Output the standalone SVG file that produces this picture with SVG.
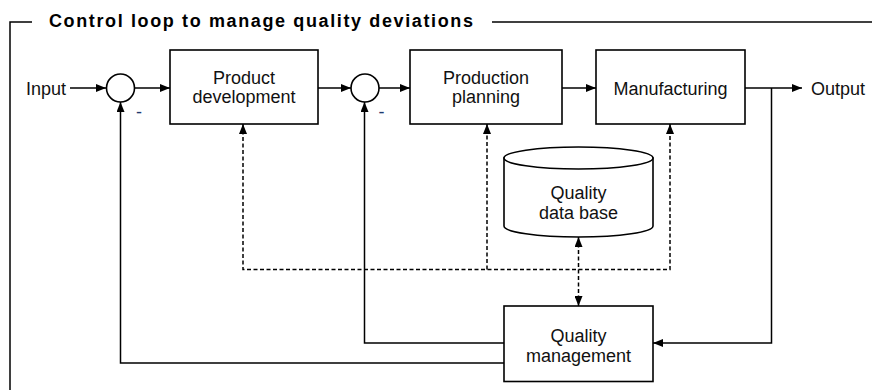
<svg xmlns="http://www.w3.org/2000/svg" width="872" height="390" viewBox="0 0 872 390">
<style>
.box{fill:#fff;stroke:#000;stroke-width:1.6}
.ln{fill:none;stroke:#000;stroke-width:1.5}
.ds{fill:none;stroke:#000;stroke-width:1.5;stroke-dasharray:4,2.5}
.t{font-family:"Liberation Sans",Arial,sans-serif;font-size:18px;fill:#111;text-anchor:middle}
.tl{font-family:"Liberation Sans",Arial,sans-serif;font-size:18px;fill:#111}
.ttl{font-family:"Liberation Sans",Arial,sans-serif;font-size:18px;font-weight:bold;fill:#000}
.neg{font-family:"Liberation Sans",Arial,sans-serif;font-size:18px;fill:#1f3a6e}
</style>
<defs>
<marker id="ah" markerUnits="userSpaceOnUse" markerWidth="11" markerHeight="8" refX="10" refY="4" orient="auto-start-reverse">
<path d="M0,0 L10,4 L0,8 z" fill="#000"/>
</marker>
</defs>
<g id="frame">
<path class="ln" d="M32,22 H10 V390"/>
<path class="ln" d="M492,22 H872"/>
<text class="ttl" x="49" y="26.5" textLength="424" lengthAdjust="spacing">Control loop to manage quality deviations</text>
</g>
<g id="connectors">
<path class="ln" d="M70,88 H106" marker-end="url(#ah)"/>
<path class="ln" d="M135,88 H170" marker-end="url(#ah)"/>
<path class="ln" d="M318,88 H351" marker-end="url(#ah)"/>
<path class="ln" d="M379,88 H410" marker-end="url(#ah)"/>
<path class="ln" d="M562,88 H596" marker-end="url(#ah)"/>
<path class="ln" d="M745,88 H802" marker-end="url(#ah)"/>
<path class="ln" d="M771.5,88 V343 H653" marker-end="url(#ah)"/>
<path class="ln" d="M504,343 H364.5 V102" marker-end="url(#ah)"/>
<path class="ln" d="M504,363 H120.5 V102" marker-end="url(#ah)"/>
<path class="ds" d="M243,124 V269.5 H670 V124" marker-start="url(#ah)" marker-end="url(#ah)"/>
<path class="ds" d="M487,269.5 V124" marker-end="url(#ah)"/>
<path class="ds" d="M578.5,237 V306" marker-start="url(#ah)" marker-end="url(#ah)"/>
</g>
<g id="input"><text class="tl" x="26" y="94.5">Input</text></g>
<g id="output"><text class="tl" x="811" y="94.5">Output</text></g>
<g id="sum1">
<circle class="box" cx="120.5" cy="88" r="14"/>
<text class="neg" x="136" y="117.5">-</text>
</g>
<g id="sum2">
<circle class="box" cx="365" cy="88" r="14"/>
<text class="neg" x="378.5" y="117.5">-</text>
</g>
<g id="product-development">
<rect class="box" x="170" y="50" width="148" height="74"/>
<text class="t" x="244" y="83.5">Product</text>
<text class="t" x="244" y="102.5">development</text>
</g>
<g id="production-planning">
<rect class="box" x="410" y="50" width="152" height="74"/>
<text class="t" x="486" y="83.5">Production</text>
<text class="t" x="486" y="102.5">planning</text>
</g>
<g id="manufacturing">
<rect class="box" x="596" y="50" width="149" height="74"/>
<text class="t" x="670.5" y="95">Manufacturing</text>
</g>
<g id="quality-database">
<path class="box" d="M504,158 V226 A74.5,11 0 0 0 653,226 V158 Z"/>
<ellipse class="box" cx="578.5" cy="158" rx="74.5" ry="11"/>
<text class="t" x="578.5" y="199">Quality</text>
<text class="t" x="578.5" y="219">data base</text>
</g>
<g id="quality-management">
<rect class="box" x="504" y="306" width="149" height="75.5"/>
<text class="t" x="578.5" y="341.5">Quality</text>
<text class="t" x="578.5" y="362">management</text>
</g>
</svg>
